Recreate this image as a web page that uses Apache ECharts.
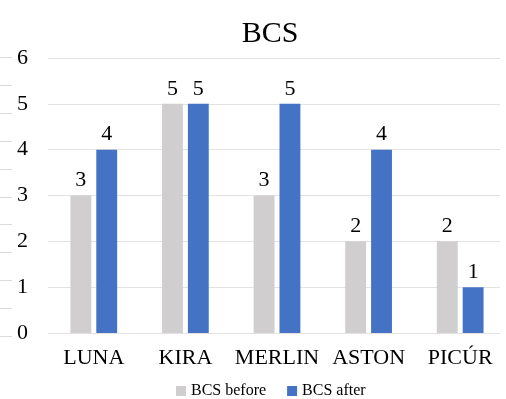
<!DOCTYPE html>
<html><head><meta charset="utf-8">
<script src="https://cdn.jsdelivr.net/npm/echarts@6/dist/echarts.min.js"></script>
<style>html,body{margin:0;padding:0;background:#fff}#c{width:506px;height:399px}</style>
</head><body><div id="c"></div>
<script>
const categories = ['LUNA', 'KIRA', 'MERLIN', 'ASTON', 'PICÚR'];
const bcsBefore = [3, 5, 3, 2, 2];
const bcsAfter = [4, 5, 5, 4, 1];
const seriesNames = ['BCS before', 'BCS after'];
const yTicks = [0, 6, 1];
const edgeTicks = [0, 10, 1];

const serif = '"Liberation Serif", "DejaVu Serif", serif';
const chart = echarts.init(document.getElementById('c'));
chart.setOption({
  animation: false,
  backgroundColor: '#fff',
  title: { text: 'BCS', left: 265, top: 14, textAlign: 'center',
    textStyle: { fontFamily: serif, fontSize: 30, fontWeight: 'normal', color: '#000' } },
  legend: { top: 378, left: 171, itemWidth: 10, itemHeight: 10, itemGap: 21,
    textStyle: { fontFamily: serif, fontSize: 16, color: '#000' },
    data: seriesNames.map(n => ({ name: n, icon: 'rect' })) },
  grid: [
    { left: 48, top: 58, width: 463, height: 275 },
    { left: 0, top: 57.5, width: 12, height: 278.5 },
    { left: 48, top: 58, width: 452, height: 275 }
  ],
  xAxis: [
    { type: 'category', gridIndex: 0, data: categories,
      axisLine: { show: false }, axisTick: { show: false },
      axisLabel: { interval: 0, fontFamily: serif, fontSize: 22, color: '#000', margin: 14 } },
    { type: 'category', gridIndex: 1, data: [''], show: false },
    { type: 'category', gridIndex: 2, data: [''], show: false }
  ],
  yAxis: [
    { type: 'value', gridIndex: 0, min: yTicks[0], max: yTicks[1], interval: yTicks[2],
      axisLine: { show: false }, axisTick: { show: false },
      axisLabel: { fontFamily: serif, fontSize: 22, color: '#000', margin: 20 },
      splitLine: { show: false } },
    { type: 'value', gridIndex: 1, min: edgeTicks[0], max: edgeTicks[1], interval: edgeTicks[2],
      axisLine: { show: false }, axisTick: { show: false }, axisLabel: { show: false },
      splitLine: { lineStyle: { color: '#dcdcdc', width: 1 } } },
    { type: 'value', gridIndex: 2, min: yTicks[0], max: yTicks[1], interval: yTicks[2],
      axisLine: { show: false }, axisTick: { show: false }, axisLabel: { show: false },
      splitLine: { lineStyle: { color: '#e2e2e2', width: 1 } } }
  ],
  series: [
    { name: seriesNames[0], type: 'bar', data: bcsBefore, barGap: '24%', barCategoryGap: '49%',
      itemStyle: { color: '#d0cece' }, z: 3,
      label: { show: true, position: 'top', distance: 4, fontFamily: serif, fontSize: 22, color: '#000' } },
    { name: seriesNames[1], type: 'bar', data: bcsAfter, barGap: '24%', barCategoryGap: '49%',
      itemStyle: { color: '#4472c4' }, z: 3,
      label: { show: true, position: 'top', distance: 4, fontFamily: serif, fontSize: 22, color: '#000' } }
  ]
});
</script></body></html>
